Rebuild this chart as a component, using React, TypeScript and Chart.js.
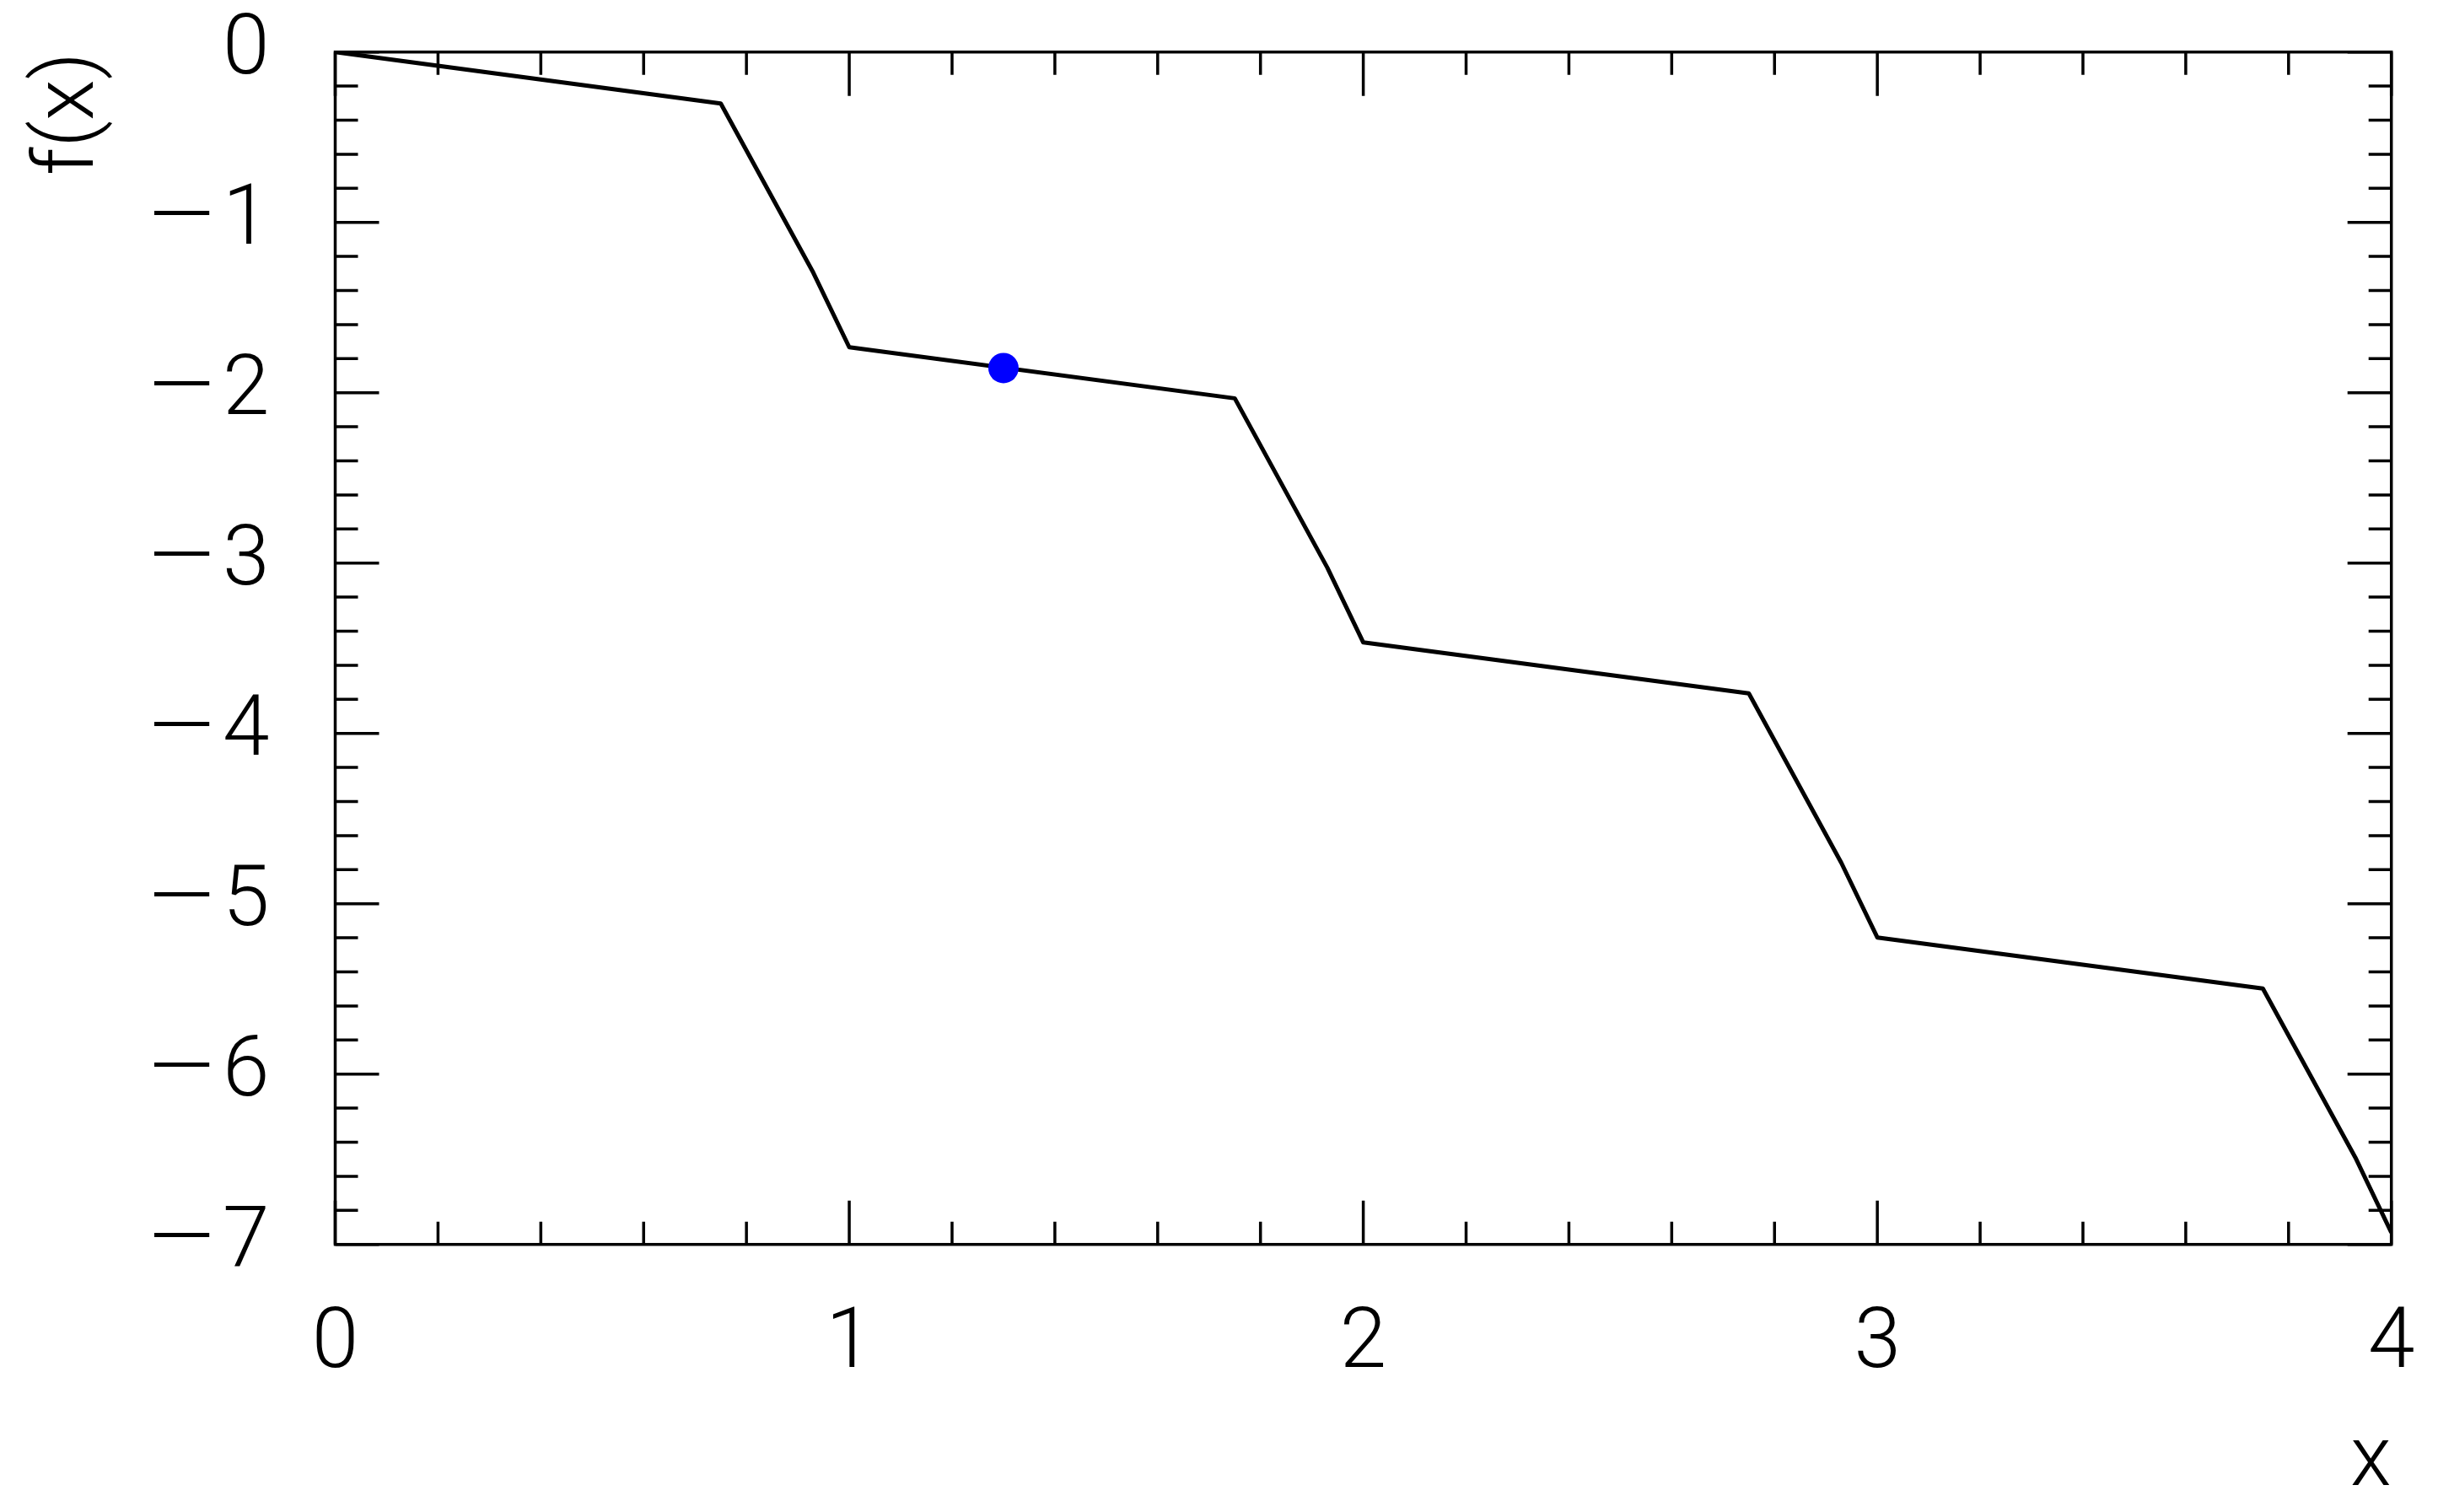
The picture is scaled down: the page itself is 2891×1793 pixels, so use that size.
import { useEffect, useRef } from 'react';
import { Chart, registerables } from 'chart.js';

Chart.register(...registerables);

// Curve f(x), values
const curveX = [0, 0.75, 0.93, 1.0, 1.75, 1.93, 2.0, 2.75, 2.93, 3.0, 3.75, 3.93, 4.0];
const curveY = [0, -0.302, -1.295, -1.733, -2.033, -3.027, -3.466, -3.765, -4.76, -5.198, -5.498, -6.49, -6.93];

// Highlighted point
const markerX = [1.3];
const markerY = [-1.855];

// Axes
const xMajorTicks = [0, 1, 2, 3, 4];
const yMajorTicks = [0, -1, -2, -3, -4, -5, -6, -7];
const minorPerMajor = 5;
const xTitle = 'x';
const yTitle = 'f(x)';

const FONT = "Roboto, 'DejaVu Sans', sans-serif";
const W = 2891;
const H = 1793;

const frameTicksPlugin = {
  id: 'frameTicks',
  beforeDatasetsDraw(chart: any) {
    const { ctx, chartArea: a, scales } = chart;
    const xs = scales.x;
    const ys = scales.y;
    const major = 52;
    const minor = 27;
    ctx.save();
    ctx.strokeStyle = '#000';
    ctx.lineWidth = 3.5;
    ctx.lineCap = 'butt';
    ctx.strokeRect(a.left, a.top, a.right - a.left, a.bottom - a.top);
    ctx.beginPath();
    for (let k = 0; k < xMajorTicks.length; k++) {
      const v0 = xMajorTicks[k];
      const v1 = k + 1 < xMajorTicks.length ? xMajorTicks[k + 1] : v0;
      const n = k + 1 < xMajorTicks.length ? minorPerMajor : 1;
      for (let j = 0; j < n; j++) {
        const v = v0 + ((v1 - v0) * j) / minorPerMajor;
        const px = xs.getPixelForValue(v);
        const len = j === 0 ? major : minor;
        ctx.moveTo(px, a.bottom);
        ctx.lineTo(px, a.bottom - len);
        ctx.moveTo(px, a.top);
        ctx.lineTo(px, a.top + len);
      }
    }
    for (let k = 0; k < yMajorTicks.length; k++) {
      const v0 = yMajorTicks[k];
      const v1 = k + 1 < yMajorTicks.length ? yMajorTicks[k + 1] : v0;
      const n = k + 1 < yMajorTicks.length ? minorPerMajor : 1;
      for (let j = 0; j < n; j++) {
        const v = v0 + ((v1 - v0) * j) / minorPerMajor;
        const py = ys.getPixelForValue(v);
        const len = j === 0 ? major : minor;
        ctx.moveTo(a.left, py);
        ctx.lineTo(a.left + len, py);
        ctx.moveTo(a.right, py);
        ctx.lineTo(a.right - len, py);
      }
    }
    ctx.stroke();
    ctx.restore();
  },
};

const zeroPad = (s: any) => {
  s.paddingTop = 0;
  s.paddingBottom = 0;
  s.paddingLeft = 0;
  s.paddingRight = 0;
};

export default function App() {
  const ref = useRef<HTMLCanvasElement | null>(null);

  useEffect(() => {
    if (!ref.current) return;
    const chart = new Chart(ref.current, {
      type: 'line',
      data: {
        datasets: [
          {
            type: 'scatter',
            data: markerX.map((x, i) => ({ x, y: markerY[i] })),
            backgroundColor: '#0000ff',
            borderColor: '#0000ff',
            pointRadius: 18,
            pointBorderWidth: 0,
            showLine: false,
          } as any,
          {
            type: 'line',
            data: curveX.map((x, i) => ({ x, y: curveY[i] })),
            borderColor: '#000000',
            borderWidth: 5,
            pointRadius: 0,
            tension: 0,
            fill: false,
            borderJoinStyle: 'round',
          } as any,
        ],
      },
      plugins: [frameTicksPlugin],
      options: {
        animation: false,
        responsive: false,
        devicePixelRatio: 1,
        layout: { padding: { left: 0, top: 61.7, right: 55.3, bottom: 0 } },
        plugins: { legend: { display: false }, tooltip: { enabled: false } },
        scales: {
          x: {
            type: 'linear',
            position: 'bottom',
            min: 0,
            max: 4,
            afterBuildTicks: (s: any) => {
              s.ticks = xMajorTicks.map((v) => ({ value: v }));
            },
            afterFit: (s: any) => {
              s.height = H - 1475.7;
              zeroPad(s);
            },
            grid: { display: false, drawTicks: false },
            border: { display: false },
            ticks: {
              autoSkip: false,
              maxRotation: 0,
              padding: 70,
              color: '#000',
              font: { family: FONT, size: 100, weight: '300', lineHeight: 1 },
              callback: (v: any) => String(v),
            },
            title: {
              display: true,
              text: xTitle,
              align: 'end',
              color: '#000',
              font: { family: FONT, size: 100, weight: '300', lineHeight: 1 },
              padding: { top: 0, bottom: 7 },
            },
          },
          y: {
            type: 'linear',
            position: 'left',
            min: -7,
            max: 0,
            afterBuildTicks: (s: any) => {
              s.ticks = yMajorTicks.map((v) => ({ value: v }));
            },
            afterFit: (s: any) => {
              s.width = 397.5;
              zeroPad(s);
            },
            grid: { display: false, drawTicks: false },
            border: { display: false },
            ticks: {
              autoSkip: false,
              padding: 78,
              color: '#000',
              font: { family: FONT, size: 100, weight: '300', lineHeight: 1 },
              callback: (v: any) => (v < 0 ? '\u2014\u200A' + String(-v) : String(v)),
            },
            title: {
              display: true,
              text: yTitle,
              align: 'end',
              color: '#000',
              font: { family: FONT, size: 100, weight: '300', lineHeight: 1 },
              padding: { top: 35, bottom: 0 },
            },
          },
        },
      } as any,
    });
    return () => chart.destroy();
  }, []);

  return (
    <div style={{ position: 'fixed', left: 0, top: 0, width: W, height: H, background: '#fff' }}>
      <canvas ref={ref} width={W} height={H} style={{ width: W, height: H, display: 'block' }} />
    </div>
  );
}
